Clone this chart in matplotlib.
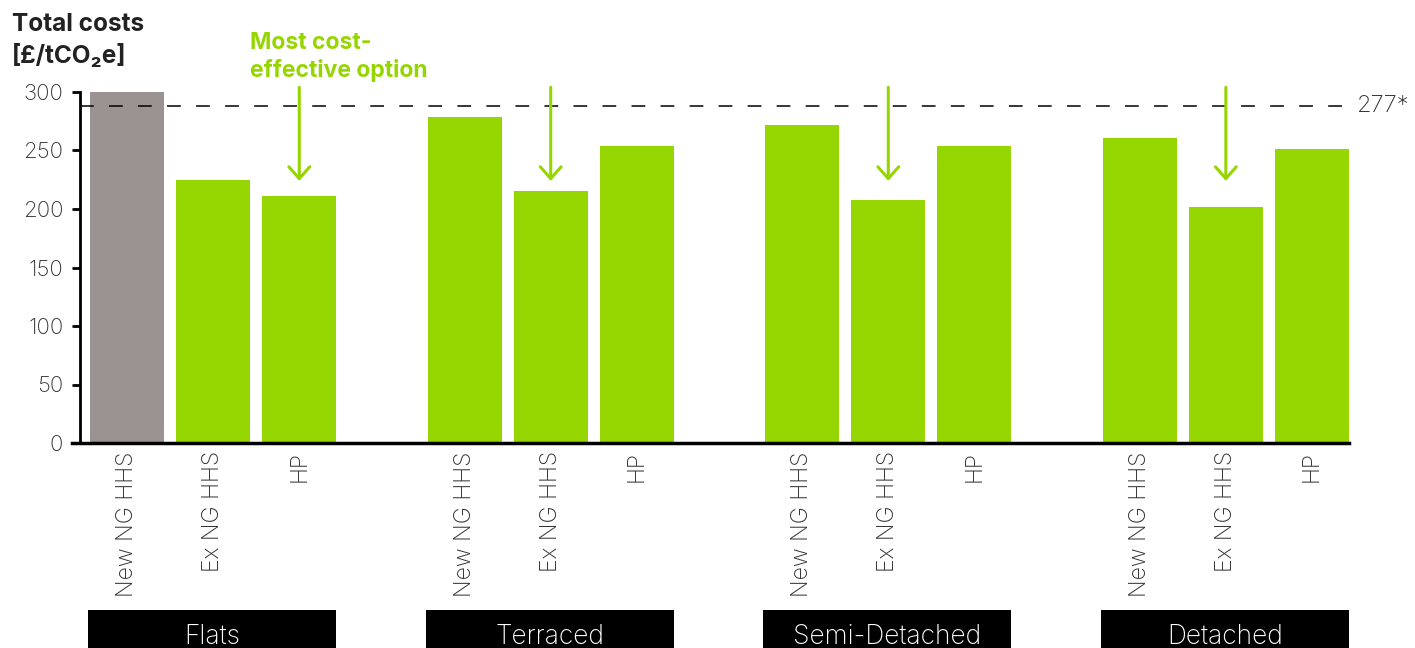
import numpy as np
import matplotlib
matplotlib.use("Agg")
from matplotlib import pyplot as plt
from matplotlib import transforms
from matplotlib.patches import Rectangle

plt.rcParams['font.family'] = ['Inter', 'DejaVu Sans']

# data
dwellings = ["Flats", "Terraced", "Semi-Detached", "Detached"]
options = ["New NG HHS", "Ex NG HHS", "HP"]
new_ng_hhs = [300, 279, 272, 261]
ex_ng_hhs = [225, 215, 208, 202]
hp = [211, 254, 254, 251]
ref_value_label = "277*"
ref_line_y = 288          # where the dashed line is drawn in the picture
best_option = "Ex NG HHS"
best_option_flats = "HP"

GREEN = "#95d600"
GREY = "#9b9391"
TXT = "#333333"

fig = plt.figure(figsize=(14.15, 6.48), dpi=100)
ax = fig.add_axes([80/1415, 1 - 443/648, (1349 - 80)/1415, (443 - 92)/648])

group_pitch = 3.92
width = 0.86
values = np.array([new_ng_hhs, ex_ng_hhs, hp])  # option x dwelling

xs, heights, colors, labels = [], [], [], []
for g, dw in enumerate(dwellings):
    for j, opt in enumerate(options):
        xs.append(g * group_pitch + j)
        heights.append(values[j, g])
        colors.append(GREY if (g == 0 and j == 0) else GREEN)
        labels.append(opt)

ax.bar(xs, heights, width=width, color=colors, zorder=2)
ax.set_xticks(xs)
ax.set_xticklabels(labels, rotation=90, fontsize=16.6, color=TXT, fontweight='light')
ax.tick_params(axis='x', length=0, pad=6)

ax.set_ylim(0, 300)
ax.set_yticks(np.arange(0, 301, 50))
ax.tick_params(axis='y', length=6, width=2, direction='out', labelsize=16,
               labelcolor=TXT, pad=6)
for lab in ax.get_yticklabels():
    lab.set_fontweight('light')

left = xs[0] - width / 2 - 10 / 86
right = xs[-1] + width / 2
ax.set_xlim(left, right)

for s in ['top', 'right']:
    ax.spines[s].set_visible(False)
ax.spines['left'].set_linewidth(2)
ax.spines['bottom'].set_linewidth(2.5)
ax.spines['bottom'].set_bounds(left - 8 / 86, right)

# dashed reference line
ax.plot([0.0, 1.004], [ref_line_y, ref_line_y], transform=ax.get_yaxis_transform(),
        color="black", lw=1.1, ls=(0, (9, 10)), clip_on=False, zorder=3)
ax.text(1.006, ref_line_y, ref_value_label, transform=ax.get_yaxis_transform(),
        fontsize=17, color=TXT, va='center', ha='left', fontweight='light')

# arrows marking the most cost-effective option
arrow_tip = 224
for g in range(len(dwellings)):
    j = options.index(best_option_flats if g == 0 else best_option)
    x = g * group_pitch + j
    ax.annotate("", xy=(x, arrow_tip), xytext=(x, 304),
                arrowprops=dict(arrowstyle="->,head_length=0.85,head_width=0.75",
                                color=GREEN, lw=2.2, shrinkA=0, shrinkB=0),
                annotation_clip=False, zorder=4)

# category boxes under the x labels
trans = transforms.blended_transform_factory(ax.transData, fig.transFigure)
box_h = (648 - 610) / 648
for g, dw in enumerate(dwellings):
    x0 = g * group_pitch - width / 2 - 2 / 86
    x1 = g * group_pitch + 2 + width / 2
    ax.add_patch(Rectangle((x0, 0), x1 - x0, box_h, transform=trans,
                           facecolor="black", edgecolor="none", clip_on=False))
    ax.text((x0 + x1) / 2, box_h / 2 - 0.012, dw, transform=trans, color="white",
            fontsize=19, ha='center', va='center', fontweight='light')

fig.text(12 / 1415, 1 - 13 / 648, "Total costs\n[£/tCO₂e]", fontsize=17.5,
         fontweight='bold', color="#222222", va='top', ha='left', linespacing=1.4)
fig.text(250 / 1415, 1 - 32 / 648, "Most cost-\neffective option", fontsize=16.5,
         fontweight='bold', color=GREEN, va='top', ha='left', linespacing=1.25)

fig.savefig("out.png", dpi=100)
